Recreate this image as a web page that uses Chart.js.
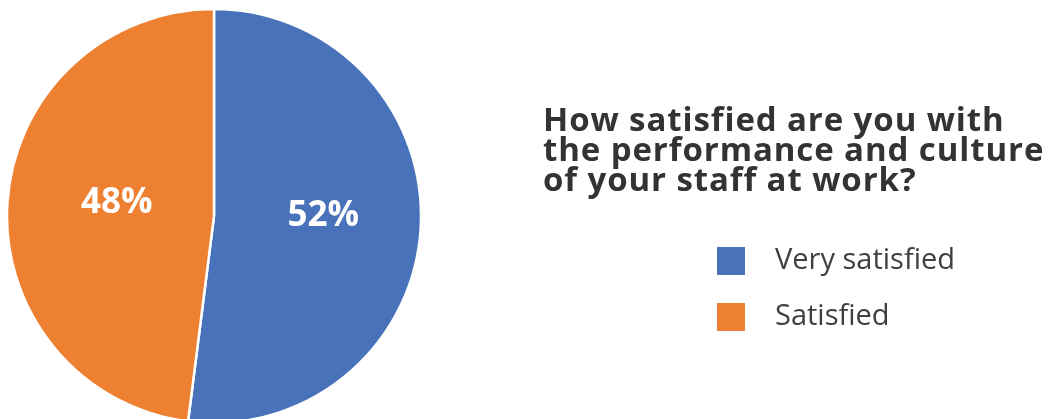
<!DOCTYPE html>
<html>
<head>
<meta charset="utf-8">
<script src="https://cdn.jsdelivr.net/npm/chart.js@4.4.1/dist/chart.umd.min.js"></script>
<style>
  html, body { margin:0; padding:0; background:#ffffff; overflow:hidden; }
  body { width:1048px; height:419px; position:relative; font-family:"Open Sans", sans-serif; }
  #c { position:absolute; left:0; top:0; }
  #title { position:absolute; left:543px; top:104px; font-weight:700; font-size:33px; letter-spacing:0.9px; line-height:30px; color:#333333; white-space:nowrap; }
  .leg { position:absolute; left:717px; height:28px; display:flex; align-items:center; white-space:nowrap; }
  .sw { width:28px; height:28px; margin-right:30px; }
  .lt { font-size:29px; color:#404040; line-height:28px; position:relative; top:-3px; }
</style>
</head>
<body>
<canvas id="c" width="1048" height="419"></canvas>
<div id="title"></div>
<div id="legend"></div>
<script>
const categories = ["Very satisfied", "Satisfied"];
const values = [52, 48];
const colors = ["#4872B9", "#EE8032"];
const titleLines = ["How satisfied are you with", "the performance and culture", "of your staff at work?"];

document.getElementById('title').innerHTML = titleLines.join('<br>');
const legendTops = [247, 303];
const legendEl = document.getElementById('legend');
categories.forEach((c, i) => {
  const d = document.createElement('div');
  d.className = 'leg';
  d.style.top = legendTops[i] + 'px';
  d.innerHTML = '<div class="sw" style="background:' + colors[i] + '"></div><span class="lt">' + c + '</span>';
  legendEl.appendChild(d);
});

const labelPlugin = {
  id: 'pctLabels',
  afterDatasetsDraw(chart) {
    const ctx = chart.ctx;
    const meta = chart.getDatasetMeta(0);
    const total = values.reduce((a, b) => a + b, 0);
    ctx.save();
    ctx.font = 'bold 35px "Open Sans"';
    ctx.fillStyle = '#ffffff';
    ctx.textAlign = 'center';
    ctx.textBaseline = 'middle';
    meta.data.forEach((arc, i) => {
      const p = arc.getProps(['x', 'y', 'startAngle', 'endAngle', 'outerRadius'], true);
      const mid = (p.startAngle + p.endAngle) / 2;
      const r = p.outerRadius * 0.5;
      const x = p.x + Math.cos(mid) * r + 6;
      const y = p.y + Math.sin(mid) * r - 6;
      ctx.fillText(Math.round(values[i] / total * 100) + '%', x, y);
    });
    ctx.restore();
  }
};

new Chart(document.getElementById('c'), {
  type: 'pie',
  data: {
    labels: categories,
    datasets: [{
      data: values,
      backgroundColor: colors,
      borderColor: '#ffffff',
      borderWidth: 2.5,
      radius: 207
    }]
  },
  options: {
    responsive: false,
    animation: false,
    devicePixelRatio: 1,
    layout: { padding: { left: 0, right: 620, top: 13, bottom: 0 } },
    plugins: { legend: { display: false }, tooltip: { enabled: false }, title: { display: false } }
  },
  plugins: [labelPlugin]
});
</script>
</body>
</html>
